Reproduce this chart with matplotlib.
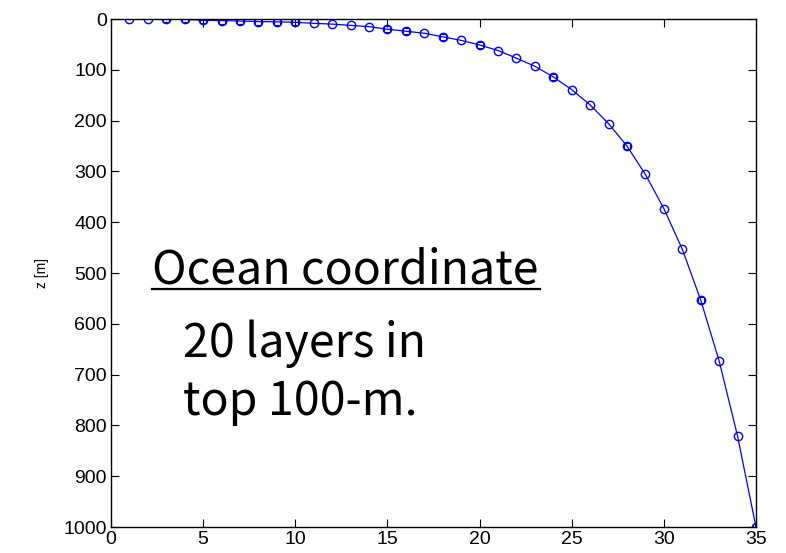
import numpy as np
import matplotlib
matplotlib.use('Agg')
import matplotlib.pyplot as plt

# layer index and depth of each layer interface
layer = np.arange(1, 36)
depth = [0, 0, 0.5, 0.5, 2.5, 3, 4, 5, 5.5, 6.5,
         8.5, 10, 12.5, 15, 20, 24, 28, 35, 42, 51,
         62, 77, 93, 114, 139, 169, 206, 250, 306, 373,
         453, 553, 673, 821, 1000]
# layers where a square marker is drawn on top
sq_idx = [2, 3, 4, 5, 6, 7, 8, 9, 14, 15, 17, 19, 23, 27, 31, 34]

xticks = np.arange(0, 36, 5)
yticks = np.arange(0, 1001, 100)

fig = plt.figure(figsize=(7.86, 5.53), dpi=100)
ax = fig.add_axes([0.1412, 0.047, 0.8206, 0.9186])

ax.plot(layer, depth, '-', color='#0000ff', linewidth=0.9,
        marker='o', markersize=6, markerfacecolor='none',
        markeredgecolor='#0000ff', markeredgewidth=1.0)
ax.plot([layer[i] for i in sq_idx], [depth[i] for i in sq_idx], 's',
        markersize=4.5, markerfacecolor='none', markeredgecolor='#0000ff',
        markeredgewidth=0.8)

ax.set_xlim(0, 35)
ax.set_ylim(1000, 0)
ax.set_xticks(xticks)
ax.set_yticks(yticks)
ax.tick_params(direction='in', top=True, right=True, length=6,
               labelsize=14, pad=3)
for lab in ax.get_xticklabels() + ax.get_yticklabels():
    lab.set_family('Liberation Sans')
for sp in ax.spines.values():
    sp.set_linewidth(1.0)
ax.set_ylabel('z [m]', fontsize=10, family='Liberation Sans', labelpad=10)

# annotation text (figure pixel positions converted to fractions)
cjk = ['Noto Sans CJK JP', 'DejaVu Sans']
W, H = 786, 553
txt_kw = dict(transform=fig.transFigure, fontsize=33.5, family=cjk,
              va='baseline', ha='left')
fig.text(152 / W, 1 - 283 / H, 'Ocean coordinate', **txt_kw)
fig.lines.append(plt.Line2D([152 / W, 540 / W], [1 - 289 / H, 1 - 289 / H],
                            transform=fig.transFigure, color='black', linewidth=1.6))
fig.text(183 / W, 1 - 357 / H, '20 layers in', **txt_kw)
fig.text(183 / W, 1 - 415 / H, 'top 100-m.', **txt_kw)

fig.savefig('out.png', dpi=100)
